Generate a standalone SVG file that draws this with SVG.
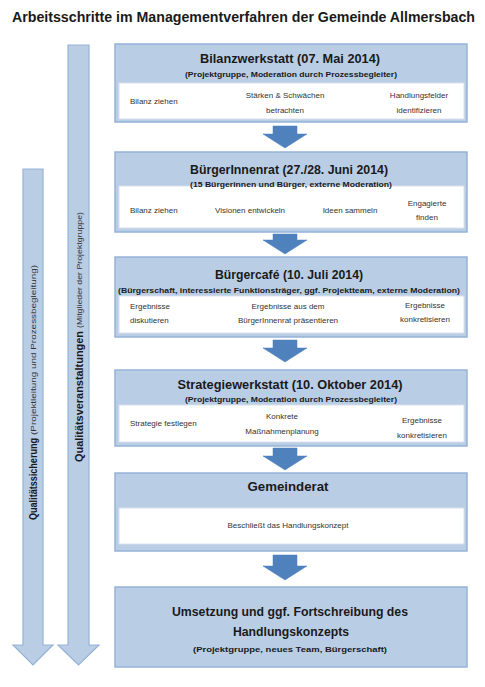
<svg xmlns="http://www.w3.org/2000/svg" width="485" height="687" viewBox="0 0 485 687">
<defs>
<style>
.box{fill:#b9cde5;stroke:#95b3d7;stroke-width:1.5}
.row{fill:#ffffff;stroke:#d9e2ee;stroke-width:1}
.down{fill:#4f81bd;stroke:#4a7ebb;stroke-width:0.5}
.side{fill:#b9cde5;stroke:#95b3d7;stroke-width:1.2}
text{font-family:"Liberation Sans",Arial,sans-serif;fill:#1a1a1a}
.ttl{font-size:13px;font-weight:bold;text-anchor:middle}
.sub{font-size:8px;font-weight:bold;text-anchor:middle}
.it{font-size:8px;text-anchor:middle;fill:#333}
.itl{font-size:8px;fill:#333}
.vb{font-size:11px;font-weight:bold}
.vs{font-size:7.5px;fill:#333}
</style>
</defs>
<rect width="485" height="687" fill="#ffffff"/>
<text x="12" y="22" font-size="14" font-weight="bold" textLength="463" lengthAdjust="spacingAndGlyphs">Arbeitsschritte im Managementverfahren der Gemeinde Allmersbach</text>

<g id="connectors">
<path class="down" d="M273,126 H297 V134 H307 L285,148 L263,134 H273 Z"/>
<path class="down" d="M273,234 H297 V240 H307 L285,254 L263,240 H273 Z"/>
<path class="down" d="M273,340 H297 V348 H307 L285,362 L263,348 H273 Z"/>
<path class="down" d="M273,448 H297 V456 H307 L285,470 L263,456 H273 Z"/>
<path class="down" d="M273,555 H297 V566 H307 L285,580 L263,566 H273 Z"/>
</g>

<g id="qualitaetssicherung">
<path class="side" d="M23,169 H43 V645 H53 L33,665 L13,645 H23 Z"/>
<text class="vb" transform="translate(37,520) rotate(-90)" textLength="82" lengthAdjust="spacingAndGlyphs">Qualitätssicherung</text>
<text class="vs" transform="translate(36,435) rotate(-90)" textLength="170" lengthAdjust="spacingAndGlyphs">(Projektleitung  und  Prozessbegleitung)</text>
</g>

<g id="qualitaetsveranstaltungen">
<path class="side" d="M68,45 H89 V645 H99 L78.5,665 L58,645 H68 Z"/>
<text class="vb" transform="translate(82.5,462) rotate(-90)" textLength="131" lengthAdjust="spacingAndGlyphs">Qualitätsveranstaltungen</text>
<text class="vs" transform="translate(82,328) rotate(-90)" textLength="116" lengthAdjust="spacingAndGlyphs">(Mitglieder der Projektgruppe)</text>
</g>

<g id="bilanzwerkstatt">
<rect class="box" x="115" y="44" width="352" height="78"/>
<rect class="row" x="119" y="83" width="345" height="36"/>
<text class="ttl" x="290" y="63" textLength="180" lengthAdjust="spacingAndGlyphs">Bilanzwerkstatt (07. Mai 2014)</text>
<text class="sub" x="291" y="77" textLength="212" lengthAdjust="spacingAndGlyphs">(Projektgruppe, Moderation durch Prozessbegleiter)</text>
<text class="itl" x="130" y="104">Bilanz ziehen</text>
<text class="it" x="285" y="98">Stärken &amp; Schwächen</text>
<text class="it" x="285" y="113">betrachten</text>
<text class="it" x="419" y="98">Handlungsfelder</text>
<text class="it" x="419" y="113">identifizieren</text>
</g>

<g id="buergerinnenrat">
<rect class="box" x="115" y="152" width="352" height="80"/>
<rect class="row" x="119" y="186" width="345" height="42"/>
<text class="ttl" x="289" y="174" textLength="198" lengthAdjust="spacingAndGlyphs">BürgerInnenrat (27./28. Juni 2014)</text>
<text class="sub" x="291" y="187" textLength="202" lengthAdjust="spacingAndGlyphs">(15 Bürgerinnen und Bürger, externe Moderation)</text>
<text class="itl" x="130" y="213">Bilanz ziehen</text>
<text class="it" x="250" y="213">Visionen entwickeln</text>
<text class="it" x="350" y="213">Ideen sammeln</text>
<text class="it" x="427" y="206">Engagierte</text>
<text class="it" x="427" y="220">finden</text>
</g>

<g id="buergercafe">
<rect class="box" x="115" y="257" width="352" height="80"/>
<rect class="row" x="119" y="296" width="345" height="37"/>
<text class="ttl" x="289" y="279" textLength="148" lengthAdjust="spacingAndGlyphs">Bürgercafé (10. Juli 2014)</text>
<text class="sub" x="289" y="293" textLength="342" lengthAdjust="spacingAndGlyphs">(Bürgerschaft, interessierte Funktionsträger, ggf. Projektteam, externe Moderation)</text>
<text class="itl" x="130" y="309">Ergebnisse</text>
<text class="itl" x="130" y="323">diskutieren</text>
<text class="it" x="288" y="309">Ergebnisse aus dem</text>
<text class="it" x="288" y="323">BürgerInnenrat präsentieren</text>
<text class="it" x="425" y="308">Ergebnisse</text>
<text class="it" x="425" y="322">konkretisieren</text>
</g>

<g id="strategiewerkstatt">
<rect class="box" x="115" y="370" width="352" height="76"/>
<rect class="row" x="119" y="405" width="345" height="37"/>
<text class="ttl" x="290" y="389" textLength="225" lengthAdjust="spacingAndGlyphs">Strategiewerkstatt (10. Oktober 2014)</text>
<text class="sub" x="291" y="402" textLength="212" lengthAdjust="spacingAndGlyphs">(Projektgruppe, Moderation durch Prozessbegleiter)</text>
<text class="itl" x="130" y="426">Strategie festlegen</text>
<text class="it" x="282" y="419">Konkrete</text>
<text class="it" x="282" y="434">Maßnahmenplanung</text>
<text class="it" x="422" y="423">Ergebnisse</text>
<text class="it" x="422" y="438">konkretisieren</text>
</g>

<g id="gemeinderat">
<rect class="box" x="115" y="473" width="352" height="78"/>
<rect class="row" x="119" y="508" width="345" height="36"/>
<text class="ttl" x="288" y="491" textLength="81" lengthAdjust="spacingAndGlyphs">Gemeinderat</text>
<text class="it" x="288" y="528">Beschließt  das Handlungskonzept</text>
</g>

<g id="umsetzung">
<rect class="box" x="115" y="587" width="352" height="80"/>
<text class="ttl" x="290" y="616" textLength="236" lengthAdjust="spacingAndGlyphs">Umsetzung und ggf. Fortschreibung des</text>
<text class="ttl" x="291" y="636" textLength="116" lengthAdjust="spacingAndGlyphs">Handlungskonzepts</text>
<text class="sub" x="290" y="652" textLength="194" lengthAdjust="spacingAndGlyphs">(Projektgruppe, neues Team, Bürgerschaft)</text>
</g>
</svg>
